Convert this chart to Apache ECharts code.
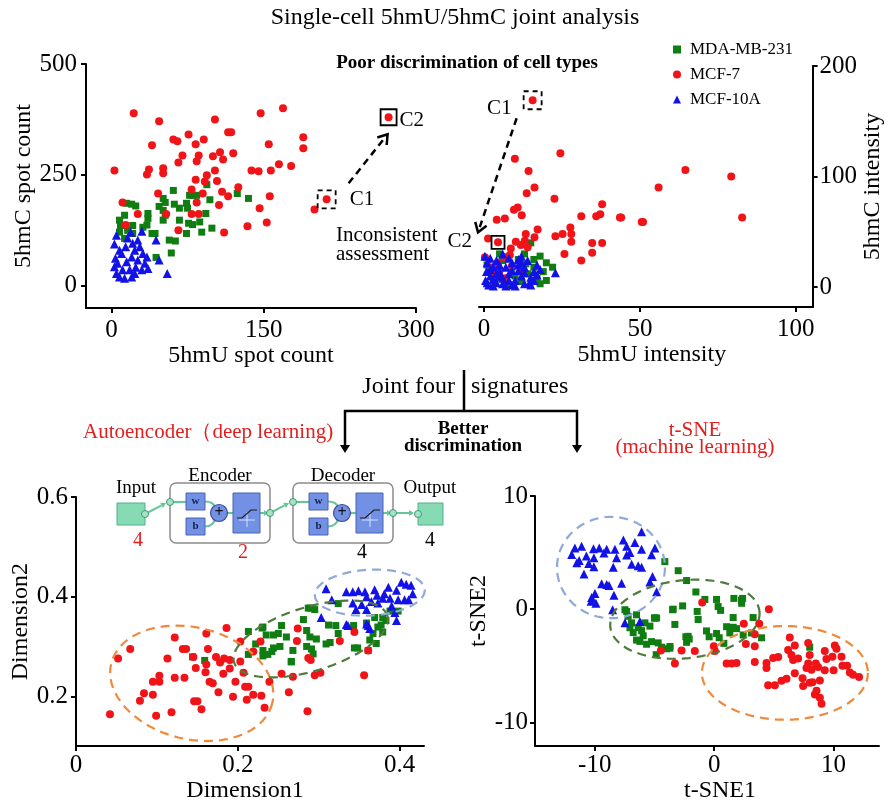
<!DOCTYPE html>
<html>
<head>
<meta charset="utf-8">
<script src="https://cdn.jsdelivr.net/npm/echarts@6/dist/echarts.min.js"></script>
<style>html,body{margin:0;padding:0;background:#fff}#main{width:886px;height:804px}</style>
</head>
<body>
<div id="main"></div>
<script>
// ---- data: spot counts (top left) ----
const countMDA = [[8,148],[15,186],[20,184],[24,180],[9,136],[13,159],[21,136],[8,121],[16,125],[21,118],[13,107],[36,163],[36,152],[35,137],[31,132],[40,118],[43,118],[47,179],[51,197],[53,188],[51,170],[53,159],[51,148],[61,215],[62,184],[67,175],[67,148],[57,103],[63,101],[59,74],[44,64],[74,186],[75,175],[77,204],[80,204],[84,204],[76,141],[74,118],[80,138],[87,144],[93,163],[97,194],[94,228],[89,121],[99,130],[124,208],[135,197]];
const countMCF7 = [[3,260],[22,389],[47,371],[40,317],[37,262],[35,251],[51,265],[51,254],[46,208],[11,188],[26,162],[14,137],[54,162],[61,330],[65,326],[70,294],[66,278],[76,341],[83,319],[86,294],[84,281],[91,330],[102,375],[100,292],[107,301],[110,285],[115,346],[118,346],[120,299],[102,260],[94,249],[92,235],[104,236],[83,239],[79,217],[90,208],[84,188],[79,162],[86,162],[106,182],[109,212],[115,202],[125,222],[66,125],[111,120],[134,134],[138,260],[145,258],[147,389],[169,400],[155,319],[157,260],[165,274],[177,270],[189,335],[189,310],[156,202],[146,175],[153,143],[200,172]];
const countMCF10A = [[5,114],[3,94],[4,62],[3,43],[5,28],[8,20],[13,17],[16,108],[14,88],[19,121],[21,96],[23,80],[20,65],[15,54],[18,36],[23,28],[26,58],[28,88],[30,123],[31,73],[33,51],[30,36],[36,39],[44,103],[47,58],[55,28],[10,73],[11,36],[6,51],[24,42],[20,20],[8,80],[26,103],[35,65]];
const countC1 = [212, 195];
const countC2 = [273, 380];

// ---- data: intensities (top right) ----
const intenMDA = [[15,40],[13.4,21],[18,28],[20,22],[16,18],[10,10],[7,6],[12,5],[4,8],[2,14],[9,18],[14,12],[17,8],[19,14],[6,24],[3,4],[11,25],[20,6],[22,18],[1,20],[8,2],[13,30],[16,25],[5,30],[18,3]];
const intenMCF7 = [[24.5,121],[9.9,116],[14.3,105],[16.2,90],[13.7,85],[22.6,80],[10.8,72],[9.6,70],[12.1,65],[4.1,61],[6.7,62],[31.2,64],[36,64],[37.3,66],[37.9,75],[43.6,63],[51,59],[27.7,54],[28,48],[25.2,48],[22.9,46],[28,41],[34.7,40],[37.9,40],[34.7,31],[25.8,30],[31.2,24],[17.2,52],[16.2,45],[13.4,48],[13.1,42],[10.2,41],[11.8,38],[8.6,35],[14,36],[1.3,44],[8.3,29],[6.7,27],[0.3,27],[4.5,22],[2.9,18],[64.6,106],[79.3,100],[82.8,63],[56,90],[44,63],[50.6,59],[5,15],[9,19],[3,11],[12,14],[7,8]];
const intenMCF10A = [[0.3,28],[6,30],[11,25],[1,22],[3,18],[5,14],[2,10],[0.5,6],[1.5,2],[4,4],[6,8],[8,12],[7,18],[9,22],[10,6],[11,15],[12,10],[13,3],[14.6,4],[15,9],[13,18],[14,24],[16,14],[17,20],[12,28],[9,2],[7,1],[3,1],[0.8,14],[2,26],[4,24],[5,20],[8,6],[10,1],[11,20],[13,13],[15,2],[16,6],[17,11],[6,3],[3,7],[1,4],[12,22],[9,15],[5,10],[18,16],[22.9,13],[2,16],[8,26],[4,12]];
const intenC1 = [15.6, 169];
const intenC2 = [4.5, 40.5];

// ---- data: autoencoder embedding (bottom left) ----
const aeMDA = [[0.213,0.330],[0.213,0.284],[0.222,0.305],[0.230,0.337],[0.235,0.323],[0.231,0.292],[0.231,0.281],[0.237,0.284],[0.242,0.290],[0.244,0.297],[0.252,0.300],[0.250,0.326],[0.254,0.342],[0.260,0.319],[0.268,0.292],[0.266,0.270],[0.281,0.354],[0.287,0.377],[0.295,0.374],[0.285,0.332],[0.289,0.319],[0.297,0.315],[0.285,0.300],[0.291,0.295],[0.293,0.285],[0.309,0.305],[0.314,0.308],[0.312,0.343],[0.321,0.342],[0.324,0.386],[0.324,0.326],[0.343,0.342],[0.344,0.297],[0.348,0.297],[0.359,0.347],[0.363,0.313],[0.367,0.326],[0.369,0.358],[0.373,0.339],[0.377,0.343],[0.379,0.358],[0.383,0.352],[0.388,0.371],[0.379,0.329],[0.361,0.292],[0.371,0.306],[0.231,0.339],[0.144,0.279],[0.159,0.272],[0.290,0.377],[0.398,0.371],[0.244,0.323],[0.266,0.269]];
const aeMCF7 = [[0.042,0.164],[0.052,0.276],[0.067,0.295],[0.084,0.206],[0.079,0.191],[0.095,0.203],[0.099,0.161],[0.095,0.229],[0.103,0.241],[0.103,0.229],[0.113,0.276],[0.118,0.168],[0.122,0.318],[0.122,0.237],[0.132,0.295],[0.136,0.295],[0.134,0.237],[0.145,0.279],[0.148,0.257],[0.146,0.190],[0.150,0.190],[0.155,0.174],[0.161,0.326],[0.161,0.264],[0.163,0.295],[0.160,0.248],[0.165,0.229],[0.169,0.226],[0.173,0.279],[0.178,0.268],[0.176,0.208],[0.182,0.245],[0.186,0.337],[0.183,0.276],[0.190,0.273],[0.190,0.256],[0.194,0.199],[0.197,0.229],[0.203,0.310],[0.203,0.270],[0.207,0.247],[0.209,0.219],[0.211,0.193],[0.213,0.219],[0.219,0.203],[0.228,0.310],[0.219,0.290],[0.229,0.201],[0.233,0.177],[0.239,0.229],[0.254,0.245],[0.263,0.208],[0.268,0.239],[0.274,0.336],[0.273,0.311],[0.287,0.277],[0.290,0.273],[0.295,0.242],[0.302,0.247],[0.286,0.170],[0.326,0.311],[0.344,0.329],[0.361,0.292],[0.356,0.242]];
const aeMCF10A = [[0.309,0.416],[0.316,0.394],[0.303,0.358],[0.334,0.410],[0.342,0.410],[0.349,0.412],[0.357,0.410],[0.359,0.400],[0.369,0.414],[0.381,0.406],[0.386,0.419],[0.396,0.413],[0.402,0.429],[0.408,0.425],[0.414,0.423],[0.416,0.406],[0.411,0.394],[0.398,0.394],[0.390,0.381],[0.394,0.368],[0.396,0.352],[0.373,0.387],[0.365,0.390],[0.353,0.384],[0.342,0.387],[0.346,0.374],[0.359,0.374],[0.336,0.342],[0.359,0.345],[0.363,0.336],[0.379,0.397],[0.388,0.397],[0.372,0.403],[0.406,0.394],[0.334,0.344],[0.361,0.342]];

// ---- data: t-SNE embedding (bottom right) ----
const tsneMDA = [[-4.13,4.2],[-3.01,3.4],[-2.31,2.53],[-1.53,1.52],[-0.78,0.86],[0.2,0.86],[0.33,0.23],[0.54,-0.11],[2.38,0.95],[2.3,0.52],[-1.42,-0.2],[-1.34,-0.91],[-2.64,0.29],[-3.48,-0.05],[-3.29,-1.35],[-2.37,-2.44],[-2.18,-2.4],[-2.31,-2.93],[-0.64,-1.92],[-0.42,-2.44],[0.2,-2.15],[0.42,-2.52],[1.04,-1.55],[1.31,-2.1],[1.59,-0.74],[1.87,-1.72],[1.59,-1.6],[2.43,-2.28],[3.26,-0.74],[3.12,-2.1],[0.81,-3.02],[3.97,-2.53],[-3.71,-3.45],[-4.85,-4.02],[-7.47,-0.05],[-7.2,-0.63],[-6.92,-1.21],[-6.5,-0.5],[-6.36,-1.64],[-6.78,-2.07],[-5.94,-2.35],[-5.38,-1.5],[-5.8,-1.21],[-4.97,-0.78],[-5.24,-2.87],[-4.69,-2.98],[-5.66,-3.1],[-6.22,-2.85],[-4.4,-3.36],[-7.05,-1.64],[-6.5,-2.73],[-6.08,-1.9],[-7.33,-0.2],[-4.82,-0.78],[-5.0,-0.78],[-3.98,-3.5],[-3.7,-3.3],[-3.43,0],[-2.09,-2.64],[1.65,0.95],[2.29,0.8],[8.0,-3.36]];
const tsneMCF7 = [[-1.0,0.58],[-4.46,-3.65],[-3.29,-4.8],[-2.73,-3.65],[-1.62,-3.7],[-0.03,-3.28],[0.06,-3.7],[1.04,-4.8],[1.46,-4.8],[1.87,-4.75],[2.48,-1.29],[2.65,-3.07],[3.4,-2.21],[3.4,-3.28],[3.77,-1.29],[3.4,-4.66],[4.58,0],[4.38,-4.75],[4.38,-5.2],[4.52,-6.72],[5.08,-6.72],[4.94,-4.31],[5.36,-4.22],[5.64,-6.32],[6.06,-6.15],[6.33,-2.5],[6.47,-4.06],[6.75,-3.2],[6.61,-4.5],[7.03,-4.37],[6.75,-5.66],[7.45,-6.8],[7.4,-6.1],[7.87,-3.0],[7.87,-4.8],[7.73,-5.2],[8.0,-4.06],[8.15,-5.35],[8.23,-6.46],[8.43,-7.53],[8.85,-7.82],[8.99,-8.35],[8.51,-4.8],[8.7,-5.1],[9.26,-3.7],[9.26,-5.4],[9.4,-4.4],[9.9,-4.2],[10.1,-3.2],[10.24,-3.5],[10.0,-5.4],[10.66,-4.2],[10.74,-5.0],[11.13,-5.0],[11.36,-5.6],[11.63,-5.8],[12.13,-6.0],[8.85,-6.3],[8.57,-7.2],[8.0,-6.5],[6.19,-3.6]];
const tsneMCF10A = [[-11.66,5.4],[-11.93,4.83],[-11.5,4.1],[-11.1,5.55],[-10.7,4.69],[-10.5,4.03],[-10.9,3.1],[-10.1,5.34],[-10.07,4.54],[-10.07,3.74],[-9.62,5.4],[-9.23,4.97],[-9.0,5.3],[-9.42,2.24],[-9.0,2.19],[-9.98,1.38],[-10.26,1.03],[-9.9,0.52],[-8.31,5.3],[-8.17,4.54],[-8.45,3.7],[-8.39,1.24],[-8.5,-0.05],[-7.75,2.3],[-7.6,6.12],[-7.33,5.55],[-7.05,5.0],[-6.91,3.97],[-7.33,4.78],[-6.64,5.9],[-6.08,6.84],[-6.36,3.83],[-6.08,3.7],[-6.08,5.3],[-4.96,5.4],[-5.24,4.8],[-5.16,2.88],[-5.38,2.39],[-4.82,1.53],[-7.47,-1.2],[-6.22,-1.1],[-11.3,4.3],[-10.3,0.7],[-8.8,2.1]];

// cluster outlines: [cx, cy, rx, ry, rotation deg]
const aeOutlines = [
  {value: [0.143, 0.226, 0.1025, 0.112, 14], itemStyle: {color: '#ef8a3c'}},
  {value: [0.290, 0.315, 0.099, 0.064, -17], itemStyle: {color: '#4f7a3c'}},
  {value: [0.363, 0.408, 0.068, 0.046, -3], itemStyle: {color: '#8fa9d9'}}
];
const tsneOutlines = [
  {value: [-8.64, 3.68, 4.52, 4.48, 0], itemStyle: {color: '#8fa9d9'}},
  {value: [-2.45, -0.89, 6.28, 3.45, -6], itemStyle: {color: '#4f7a3c'}},
  {value: [5.92, -5.63, 6.95, 4.14, 0], itemStyle: {color: '#ef8a3c'}}
];

const SERIF = "'Liberation Serif', 'Times New Roman', serif";
const RED_TXT = '#e41e1e';
const STYLE = {
  'MDA-MB-231': {symbol: 'rect', size: 7, color: '#0f7d12'},
  'MCF-7': {symbol: 'circle', size: 8, color: '#f01418'},
  'MCF-10A': {symbol: 'triangle', size: 9, color: '#1212e8'}
};

var chart = echarts.init(document.getElementById('main'), null, {renderer: 'canvas'});

function axis(o) {
  return {
    type: 'value', gridIndex: o.grid, min: o.min, max: o.max, position: o.position,
    name: o.name, nameLocation: 'middle', nameGap: o.nameGap, nameRotate: o.rotate,
    nameTextStyle: {color: '#000', fontFamily: SERIF, fontSize: 24, padding: o.namePad || 0},
    splitLine: {show: false},
    axisLine: {show: true, onZero: false, lineStyle: {color: '#000', width: 2}},
    axisTick: {show: true, length: 5, customValues: o.ticks, lineStyle: {color: '#000', width: 2}},
    axisLabel: {color: '#000', fontFamily: SERIF, fontSize: 25, margin: o.margin, customValues: o.ticks}
  };
}

function scatter(name, data, gi) {
  const st = STYLE[name];
  return {
    type: 'scatter', name: name, data: data, xAxisIndex: gi, yAxisIndex: gi,
    symbol: st.symbol, symbolSize: st.size, itemStyle: {color: st.color, opacity: 1},
    emphasis: {disabled: true}, silent: true
  };
}

function renderOutline(params, api) {
  const c = api.coord([api.value(0), api.value(1)]);
  const a = api.size([api.value(2), 0])[0];
  const b = api.size([0, api.value(3)])[1];
  const r = api.value(4) * Math.PI / 180;
  const pts = [];
  for (let i = 0; i < 72; i++) {
    const t = i / 72 * Math.PI * 2;
    const x = a * Math.cos(t), y = b * Math.sin(t);
    pts.push([c[0] + x * Math.cos(r) - y * Math.sin(r), c[1] + x * Math.sin(r) + y * Math.cos(r)]);
  }
  return {
    type: 'polygon', shape: {points: pts},
    style: {fill: 'none', stroke: api.visual('color'), lineWidth: 2.2, lineDash: [9, 6]}
  };
}

function outlines(data, gi) {
  return {type: 'custom', name: 'outline', xAxisIndex: gi, yAxisIndex: gi, data: data,
    renderItem: renderOutline, silent: true, z: 3};
}

const option = {
  animation: false,
  backgroundColor: '#fff',
  legend: {
    data: [{name: 'MDA-MB-231', icon: 'rect'}, {name: 'MCF-7', icon: 'circle'}, {name: 'MCF-10A', icon: 'triangle'}],
    orient: 'vertical', left: 673, top: 41, padding: 0, itemWidth: 8, itemHeight: 8, itemGap: 8,
    selectedMode: false,
    textStyle: {fontFamily: SERIF, fontSize: 17, color: '#000', lineHeight: 17, padding: [0, 0, 0, 4]}
  },
  grid: [
    {left: 86, top: 64, width: 330, height: 244},
    {left: 479, top: 66, width: 336, height: 241},
    {left: 76, top: 497, width: 348, height: 258},
    {left: 535, top: 496, width: 344, height: 257}
  ],
  xAxis: [
    axis({grid: 0, min: -25, max: 300, ticks: [0, 150, 300], name: '5hmU spot count', nameGap: 34, margin: 10}),
    axis({grid: 1, min: -1.6, max: 105.4, ticks: [0, 50, 100], name: '5hmU intensity', nameGap: 33, margin: 10, namePad: [0, 0, 0, 12]}),
    axis({grid: 2, min: 0, max: 0.43, ticks: [0, 0.2, 0.4], name: 'Dimension1', nameGap: 28, margin: 7, namePad: [0, 10, 0, 0]}),
    axis({grid: 3, min: -15, max: 13.8, ticks: [-10, 0, 10], name: 't-SNE1', nameGap: 28, margin: 7, namePad: [0, 0, 0, 26]})
  ],
  yAxis: [
    axis({grid: 0, min: -50, max: 500, ticks: [0, 250, 500], name: '5hmC spot count', nameGap: 50, rotate: 90, margin: 9}),
    axis({grid: 1, min: -18, max: 200, ticks: [0, 100, 200], name: '5hmC intensity', nameGap: 46, rotate: 90, margin: 7, position: 'right'}),
    axis({grid: 2, min: 0.1, max: 0.6, ticks: [0.2, 0.4, 0.6], name: 'Dimension2', nameGap: 39, rotate: 90, margin: 8}),
    axis({grid: 3, min: -12.1, max: 10, ticks: [-10, 0, 10], name: 't-SNE2', nameGap: 29, rotate: 90, margin: 7, namePad: [0, 0, 0, 20]})
  ],
  series: [
    scatter('MDA-MB-231', countMDA, 0),
    scatter('MCF-7', countMCF7.concat([countC1, countC2]), 0),
    scatter('MCF-10A', countMCF10A, 0),
    scatter('MDA-MB-231', intenMDA, 1),
    scatter('MCF-7', intenMCF7.concat([intenC1, intenC2]), 1),
    scatter('MCF-10A', intenMCF10A, 1),
    scatter('MDA-MB-231', aeMDA, 2),
    scatter('MCF-7', aeMCF7, 2),
    scatter('MCF-10A', aeMCF10A, 2),
    outlines(aeOutlines, 2),
    scatter('MDA-MB-231', tsneMDA, 3),
    scatter('MCF-7', tsneMCF7, 3),
    scatter('MCF-10A', tsneMCF10A, 3),
    outlines(tsneOutlines, 3)
  ]
};
chart.setOption(option);

// ---------- annotations ----------
function txt(x, y, s, o) {
  o = o || {};
  return {type: 'text', x: x, y: y, silent: true, z: o.z || 20, style: {
    text: s, fill: o.color || '#000', font: (o.bold ? 'bold ' : '') + (o.size || 20) + 'px ' + SERIF,
    align: o.align || 'center', verticalAlign: 'middle', lineHeight: o.lh
  }};
}
function seg(x1, y1, x2, y2, o) {
  o = o || {};
  return {type: 'line', silent: true, z: 10, shape: {x1: x1, y1: y1, x2: x2, y2: y2},
    style: {stroke: o.color || '#000', lineWidth: o.w || 2.5, lineDash: o.dash || null}};
}
function arrow(x1, y1, x2, y2, o) {
  o = o || {};
  const ang = Math.atan2(y2 - y1, x2 - x1), h = o.head || 10, w = o.headW || 5;
  const bx = x2 - h * Math.cos(ang), by = y2 - h * Math.sin(ang);
  const nx = -Math.sin(ang) * w, ny = Math.cos(ang) * w;
  const els = [seg(x1, y1, o.open ? x2 : bx, o.open ? y2 : by, o)];
  if (o.open) {
    els.push({type: 'polyline', silent: true, z: 10, shape: {points: [[bx + nx, by + ny], [x2, y2], [bx - nx, by - ny]]},
      style: {stroke: o.color || '#000', lineWidth: o.w || 2.5, fill: 'none'}});
  } else {
    els.push({type: 'polygon', silent: true, z: 10, shape: {points: [[bx + nx, by + ny], [x2, y2], [bx - nx, by - ny]]},
      style: {fill: o.color || '#000'}});
  }
  return els;
}
function box(c, half, dashed) {
  return {type: 'rect', silent: true, z: 10, shape: {x: c[0] - half, y: c[1] - half, width: half * 2, height: half * 2},
    style: {fill: 'none', stroke: '#000', lineWidth: 1.8, lineDash: dashed ? [5, 4] : null}};
}

const px = (gi, pt) => chart.convertToPixel({gridIndex: gi}, pt);
const c1 = px(0, countC1), c2 = px(0, countC2);
const d1 = px(1, intenC1), d2 = px(1, intenC2);

let g = [];
g.push(txt(455, 18, 'Single-cell 5hmU/5hmC joint analysis', {size: 24}));
g.push(txt(467, 63, 'Poor discrimination of cell types', {size: 19, bold: true}));

// C1 / C2 in spot count plot
g.push(box(c1, 9, true), box(c2, 8, false));
g.push(txt(c1[0] + 23, c1[1], 'C1', {align: 'left', size: 21}));
g.push(txt(c2[0] + 11, c2[1] + 3, 'C2', {align: 'left', size: 21}));
g = g.concat(arrow(c1[0] + 22, c1[1] - 16, c2[0] - 1, c2[1] + 17, {dash: [7, 5], open: true, head: 9, headW: 6}));

// C1 / C2 in intensity plot
g.push(box(d1, 9, true), box(d2, 6.5, false));
g.push(txt(d1[0] - 21, d1[1] + 8, 'C1', {align: 'right', size: 21}));
g.push(txt(d2[0] - 26, d2[1] - 1, 'C2', {align: 'right', size: 21}));
g = g.concat(arrow(d1[0] - 16, d1[1] + 18, d2[0] - 20, d2[1] - 10, {dash: [7, 5], open: true, head: 9, headW: 6}));
g.push(txt(336, 245, 'Inconsistent\nassessment', {align: 'left', size: 21, lh: 19}));

// joint analysis connector
g.push(txt(455, 387, 'Joint four', {align: 'right', size: 24}));
g.push(txt(471, 387, 'signatures', {align: 'left', size: 24}));
g.push(seg(464, 370, 464, 411, {w: 2.5}));
g.push(seg(344, 411, 578, 411, {w: 2.5}));
g = g.concat(arrow(345, 410, 345, 453, {head: 8, headW: 5}));
g = g.concat(arrow(577, 410, 577, 453, {head: 8, headW: 5}));
g.push(txt(463, 438, 'Better\ndiscrimination', {size: 19, bold: true, lh: 17}));
g.push(txt(83, 432, 'Autoencoder（deep learning)', {align: 'left', size: 21, color: RED_TXT}));
g.push(txt(695, 439, 't-SNE\n(machine learning)', {size: 21, color: RED_TXT, lh: 17}));

// autoencoder network sketch
const NG = '#66c59b', BLUE_F = '#7391e4', BLUE_S = '#4a62b3', GREEN_F = '#86dbb5', GREEN_S = '#55ae86';
function port(x, y) {
  return {type: 'circle', silent: true, z: 12, shape: {cx: x, cy: y, r: 3.5}, style: {fill: '#a6e3c5', stroke: '#3f9a72', lineWidth: 1}};
}
function block(x0) {
  const els = [];
  els.push({type: 'rect', silent: true, z: 10, shape: {x: x0, y: 483, width: 100, height: 60, r: 6},
    style: {fill: '#fff', stroke: '#8c8c8c', lineWidth: 1.5}});
  els.push(seg(x0, 502, x0 + 16, 502, {color: NG, w: 2.2}));
  els.push({type: 'rect', silent: true, z: 11, shape: {x: x0 + 16, y: 493, width: 19, height: 17}, style: {fill: BLUE_F, stroke: BLUE_S, lineWidth: 1}});
  els.push({type: 'rect', silent: true, z: 11, shape: {x: x0 + 16, y: 518, width: 19, height: 17}, style: {fill: BLUE_F, stroke: BLUE_S, lineWidth: 1}});
  els.push(txt(x0 + 25.5, 501, 'w', {size: 11, bold: true, color: '#14204a', z: 15}));
  els.push(txt(x0 + 25.5, 526, 'b', {size: 11, bold: true, color: '#14204a', z: 15}));
  els.push({type: 'bezierCurve', silent: true, z: 10, shape: {x1: x0 + 35, y1: 501.5, cpx1: x0 + 43, cpy1: 501.5, x2: x0 + 45, y2: 507}, style: {stroke: NG, lineWidth: 2.2, fill: 'none'}});
  els.push({type: 'bezierCurve', silent: true, z: 10, shape: {x1: x0 + 35, y1: 526.5, cpx1: x0 + 43, cpy1: 526.5, x2: x0 + 45, y2: 519}, style: {stroke: NG, lineWidth: 2.2, fill: 'none'}});
  els.push({type: 'circle', silent: true, z: 11, shape: {cx: x0 + 49, cy: 513, r: 8.5}, style: {fill: BLUE_F, stroke: '#3b4f9a', lineWidth: 1.2}});
  els.push(txt(x0 + 49, 513, '+', {size: 16, bold: true, color: '#111', z: 15}));
  els.push(seg(x0 + 57.5, 513, x0 + 63, 513, {color: NG, w: 2.2}));
  els.push({type: 'rect', silent: true, z: 11, shape: {x: x0 + 63, y: 493, width: 27, height: 40}, style: {fill: BLUE_F, stroke: BLUE_S, lineWidth: 1}});
  els.push({type: 'polyline', silent: true, z: 12, shape: {points: [[x0 + 77, 512], [x0 + 77, 527]]}, style: {stroke: '#d6e0ff', lineWidth: 1}});
  els.push({type: 'polyline', silent: true, z: 12, shape: {points: [[x0 + 69, 520], [x0 + 85, 520]]}, style: {stroke: '#d6e0ff', lineWidth: 1}});
  els.push({type: 'polyline', silent: true, z: 13, shape: {points: [[x0 + 67, 518], [x0 + 72, 518], [x0 + 81, 510], [x0 + 87, 510]]}, style: {stroke: '#1a1a1a', lineWidth: 1.2, fill: 'none'}});
  return els.concat(arrow(x0 + 90, 513, x0 + 98, 513, {color: NG, w: 2, head: 4, headW: 3}), [port(x0, 502), port(x0 + 100, 513)]);
}
g.push({type: 'rect', silent: true, z: 10, shape: {x: 117, y: 503, width: 28, height: 22}, style: {fill: GREEN_F, stroke: GREEN_S, lineWidth: 1}});
g.push({type: 'rect', silent: true, z: 10, shape: {x: 418, y: 503, width: 25, height: 22}, style: {fill: GREEN_F, stroke: GREEN_S, lineWidth: 1}});
g = g.concat(block(170), block(293));
g = g.concat(arrow(145, 514, 166, 503, {color: NG, w: 2, head: 5, headW: 3}));
g = g.concat(arrow(270, 513, 289, 503, {color: NG, w: 2, head: 5, headW: 3}));
g = g.concat(arrow(393, 513, 414, 513, {color: NG, w: 2, head: 5, headW: 3}));
g.push(port(145, 514), port(418, 514));
g.push(txt(136, 488, 'Input', {size: 19}));
g.push(txt(220, 476, 'Encoder', {size: 19}));
g.push(txt(343, 476, 'Decoder', {size: 19}));
g.push(txt(430, 488, 'Output', {size: 19}));
g.push(txt(138, 541, '4', {size: 20, color: RED_TXT}));
g.push(txt(243, 553, '2', {size: 20, color: RED_TXT}));
g.push(txt(362, 553, '4', {size: 20}));
g.push(txt(430, 541, '4', {size: 20}));

chart.setOption({graphic: {elements: g}});
window.addEventListener('resize', chart.resize);
</script>
</body>
</html>
